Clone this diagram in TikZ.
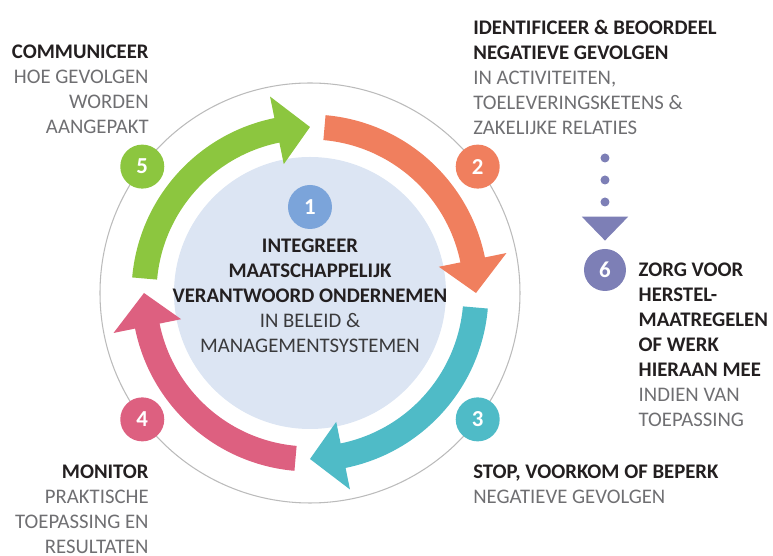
\documentclass[tikz,border=0pt]{standalone}
\usepackage{fontspec}
\setmainfont{Carlito}
\usetikzlibrary{positioning,arrows.meta}

\definecolor{cgreen}{HTML}{8CC63F}
\definecolor{corange}{HTML}{F07F5E}
\definecolor{cteal}{HTML}{4FBBC7}
\definecolor{cpink}{HTML}{DD6080}
\definecolor{cblue}{HTML}{7BA4DA}
\definecolor{cpurple}{HTML}{7D7FB6}
\definecolor{cdisk}{HTML}{DCE5F3}
\definecolor{cring}{HTML}{BBBBBB}
\definecolor{cdark}{HTML}{231F20}
\definecolor{cgray}{HTML}{6F6F72}
\definecolor{cmid}{HTML}{3A3A3C}

\newcommand{\gr}[1]{\textcolor{cgray}{#1}}

\tikzset{
        numcircle/.style={circle, fill=#1, text=white, minimum size=0.88cm, inner sep=0pt,
            font=\bfseries\fontsize{13}{13}\selectfont},
        steptext/.style={inner sep=0pt, text=cdark, font=\fontsize{11.8}{14.2}\selectfont},
        dots/.style={cpurple, line width=0.18cm, line cap=round, dash pattern=on 0pt off 0.44cm,
            -{Triangle[width=0.9cm, length=0.48cm]}, shorten >=0.16cm},
    }

\begin{document}
\begin{tikzpicture}[node distance=0.18cm]

        \useasboundingbox (-6.2,-5.26) rectangle (9.26,5.86);

        % Ring and inner disk
        \draw[cring, line width=0.6pt] (0,0) circle (4.2);
        \fill[cdisk] (0,0) circle (2.72);

        % Arrows round the ring (colour / start / tip)
        \foreach \col/\a/\b in {cgreen/175/90, corange/85/0, cteal/-5/-90, cpink/-95/-180} {
            \pgfmathsetmacro{\h}{\b+11.5}
            \pgfmathsetmacro{\e}{\b+11}
            \fill[\col] (\a:3.07) arc[start angle=\a, end angle=\e, radius=3.07]
                -- (\e:3.57) arc[start angle=\e, end angle=\a, radius=3.57] -- cycle;
            \fill[\col] (\h:2.63) -- (\h:4.01) -- (\b:3.32) -- cycle;
        }

        % Numbers
        \node[numcircle=cblue] (n1) at (0,1.72) {1};
        \node[numcircle=corange] (n2) at (37:4.2) {2};
        \node[numcircle=cteal] (n3) at (-37:4.2) {3};
        \node[numcircle=cpink] (n4) at (-143:4.2) {4};
        \node[numcircle=cgreen] (n5) at (143:4.2) {5};
        \node[numcircle=cpurple, minimum size=0.84cm] (n6) at (5.9,0.46) {6};

        % Centre text
        \node[steptext, align=center, below=of n1] (integreer)
            {\textbf{INTEGREER}\\ \textbf{MAATSCHAPPELIJK}\\ \textbf{VERANTWOORD ONDERNEMEN}\\
             \textcolor{cmid}{IN BELEID \&}\\ \textcolor{cmid}{MANAGEMENTSYSTEMEN}};

        % Step texts
        \node[steptext, align=right, anchor=north east] (communiceer) at (-3.22,4.96)
            {\textbf{COMMUNICEER}\\ \gr{HOE GEVOLGEN}\\ \gr{WORDEN}\\ \gr{AANGEPAKT}};
        \node[steptext, align=left, anchor=north west] (identificeer) at (3.26,5.46)
            {\textbf{IDENTIFICEER \& BEOORDEEL}\\ \textbf{NEGATIEVE GEVOLGEN}\\
             \gr{IN ACTIVITEITEN,}\\ \gr{TOELEVERINGSKETENS \&}\\ \gr{ZAKELIJKE RELATIES}};
        \node[steptext, align=left, anchor=north west] (stop) at (3.26,-3.44)
            {\textbf{STOP, VOORKOM OF BEPERK}\\ \gr{NEGATIEVE GEVOLGEN}};
        \node[steptext, align=right, anchor=north east] (monitor) at (-3.22,-3.44)
            {\textbf{MONITOR}\\ \gr{PRAKTISCHE}\\ \gr{TOEPASSING EN}\\ \gr{RESULTATEN}};
        \node[steptext, align=left, anchor=north west] (zorg) at ([xshift=0.24cm, yshift=0.14cm]n6.east)
            {\textbf{ZORG VOOR}\\ \textbf{HERSTEL-}\\ \textbf{MAATREGELEN}\\ \textbf{OF WERK}\\
             \textbf{HIERAAN MEE}\\ \gr{INDIEN VAN}\\ \gr{TOEPASSING}};

        % Dotted link to step 6
        \coordinate (dstart) at (5.9,2.7);
        \draw[dots] (dstart) -- (n6);

    \end{tikzpicture}
\end{document}
